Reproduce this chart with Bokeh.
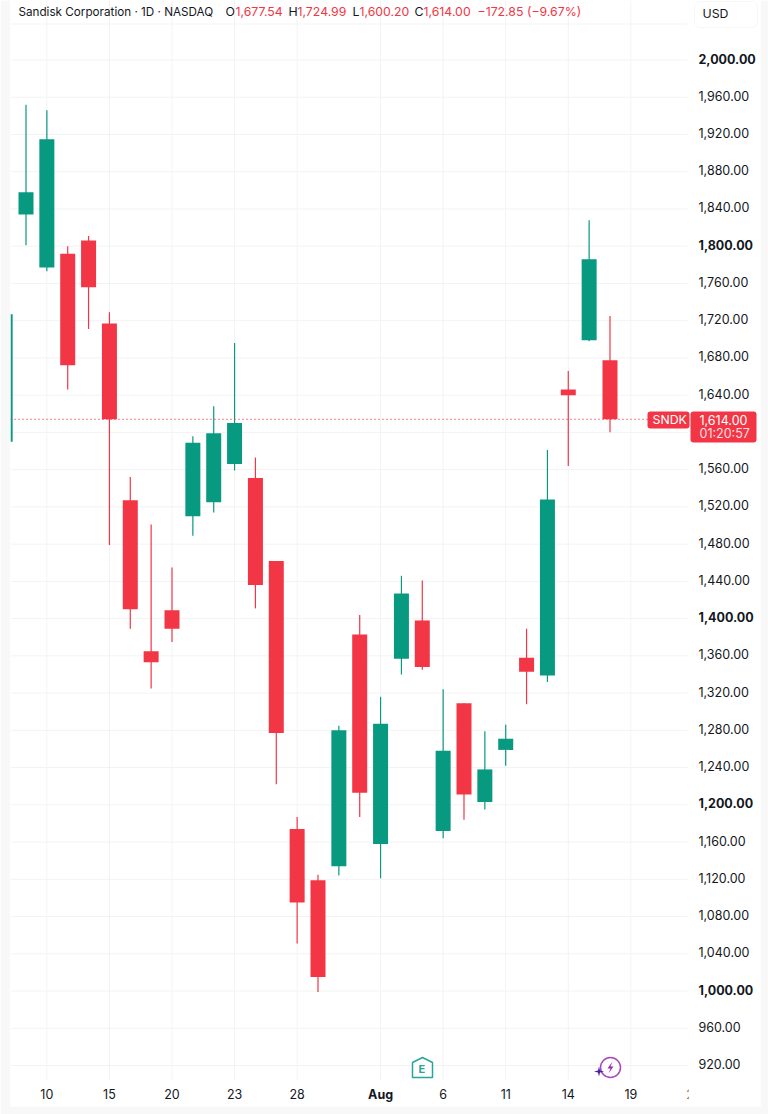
from bokeh.plotting import figure
from bokeh.models import (Range1d, LinearAxis, FixedTicker, Label, BoxAnnotation)
from bokeh.embed import file_html
from bokeh.resources import INLINE

# Daily candles: session index and OHLC
idx   = [-1,0,1,2,3,4,5,6,7,8,9,10,11,12,13,14,15,16,17,18,19,20,21,22,23,24,25,26,27,28]
opens = [1590,1834,1777,1792,1806,1717,1527,1365,1409,1510,1525,1566,1551,1462,1174,1119,1134,1383,1158,1357,1398,1172,1309,1203,1259,1358,1339,1646,1699,1677.54]
highs = [1727,1952,1946,1800,1811,1729,1552,1501,1455,1596,1628,1696,1573,1462,1187,1125,1285,1404,1316,1446,1441,1324,1309,1279,1286,1389,1581,1666,1828,1724.99]
lows  = [1590,1801,1773,1646,1711,1479,1389,1325,1375,1489,1514,1559,1411,1222,1051,999,1124,1187,1121,1340,1345,1164,1184,1195,1242,1308,1332,1564,1698,1600.20]
closes= [1727,1858,1915,1672,1756,1614,1410,1353,1389,1589,1599,1610,1436,1277,1095,1015,1280,1213,1287,1427,1348,1258,1211,1238,1271,1343,1528,1640,1786,1614.00]

price_ticks = [920,960,1040,1080,1120,1160,1240,1280,1320,1360,1440,1480,1520,1560,1640,1680,1720,1760,1840,1880,1920,1960]
price_bold  = [1000,1200,1400,1800,2000]
grid_prices = [920,960,1000,1040,1080,1120,1160,1200,1240,1280,1320,1360,1400,1440,1480,1520,1560,1600,1640,1680,1720,1760,1800,1840,1880,1920,1960,2000]
x_ticks  = [1,4,7,10,13,20,23,26,29,31.85]
x_labels = ["10","15","20","23","28","6","11","14","19","2"]
x_bold = [17]
x_bold_labels = ["Aug"]
grid_x = [1,4,7,10,13,17,20,23,26,29]

GREEN = "#089981"
RED = "#F23645"
TXT = "#131722"
GRID = "#f3f3f3"
FONT = "Inter"
W, H = 768, 1114
L, R, T, B = 10, 760, 0, 1106   # figure frame
PR, AB = 687, 1080              # price scale edge, time scale edge

def vy(y): return 2000 - (y - 59.5) * 1.0741
def vx(x): return (x - 25.5) / 20.857

p = figure(width=W, height=H, output_backend="svg", toolbar_location=None,
           x_range=Range1d(vx(L), vx(R)), y_range=Range1d(vy(B), vy(T)),
           min_border_left=L, min_border_right=W-R, min_border_top=T, min_border_bottom=H-B,
           x_axis_location=None, y_axis_location=None,
           border_fill_color="#f8f8f8", background_fill_color="#ffffff", outline_line_color=None)
p.grid.visible = False
# labels of the price scale sit a little above their grid line
p.extra_y_ranges = {"labels": Range1d(vy(B + 1.5), vy(T + 1.5))}

# grid
p.segment([vx(L)]*len(grid_prices), grid_prices, [vx(PR)]*len(grid_prices), grid_prices, line_color=GRID, level="underlay")
p.segment(grid_x, [vy(AB)]*len(grid_x), grid_x, [vy(T)]*len(grid_x), line_color=GRID, level="underlay")
p.segment([vx(L)], [vy(23.5)], [vx(PR)], [vy(23.5)], line_color=GRID, level="underlay")

# candles
cols = [GREEN if c >= o else RED for o, c in zip(opens, closes)]
tops = [max(o, c) for o, c in zip(opens, closes)]
bots = [min(o, c) for o, c in zip(opens, closes)]
p.segment(idx, lows, idx, highs, line_color=cols, line_width=1.2)
p.vbar(x=idx, top=tops, bottom=bots, width=15/20.857, fill_color=cols, line_color=None)

# last price line
p.segment([vx(L)], [closes[-1]], [vx(647)], [closes[-1]], line_color=RED, line_width=1.3, line_dash="1 3")

# axes
def style(a, sty, standoff):
    a.axis_line_color = None
    a.major_tick_line_color = None
    a.minor_tick_line_color = None
    a.major_label_standoff = standoff
    a.major_label_text_font = FONT
    a.major_label_text_font_size = "12.5px"
    a.major_label_text_font_style = sty
    a.major_label_text_color = TXT

for ticks, sty in [(price_ticks, "normal"), (price_bold, "bold")]:
    a = LinearAxis(ticker=FixedTicker(ticks=ticks), fixed_location=vx(PR), y_range_name="labels")
    style(a, sty, 5)
    a.major_label_overrides = {t: f"{t:,.2f}" for t in ticks}
    p.add_layout(a, "right")

for ticks, labels, sty, off in [(x_ticks, x_labels, "normal", 2), (x_bold, x_bold_labels, "bold", 0)]:
    b = LinearAxis(ticker=FixedTicker(ticks=ticks), fixed_location=vy(AB))
    style(b, sty, off)
    b.major_label_overrides = dict(zip(ticks, labels))
    p.add_layout(b, "below")

# the time scale label past the price scale edge is cut off
p.add_layout(BoxAnnotation(left=vx(PR+1), right=vx(R), top=vy(AB+2), bottom=vy(B), fill_color="#ffffff", fill_alpha=1, line_color=None, level="overlay"))

def label(x, y, text, color=TXT, size="12.3px", **kw):
    lb = Label(x=x-L, y=B-y, x_units="screen", y_units="screen", text=text, text_color=color,
               text_font=FONT, text_font_size=size, text_baseline="middle", **kw)
    p.add_layout(lb)

def box(x0, x1, y0, y1, fill, line=None, radius=3):
    p.add_layout(BoxAnnotation(left=vx(x0), right=vx(x1), top=vy(y0), bottom=vy(y1), fill_color=fill, fill_alpha=1,
                               line_color=line, border_radius=radius, level="annotation"))

# header
label(18, 11, "Sandisk Corporation · 1D · NASDAQ", size="11.7px")
for x, t, c in [(225,"O",TXT),(235,"1,677.54",RED),(288,"H",TXT),(297,"1,724.99",RED),
                (352,"L",TXT),(359,"1,600.20",RED),(414,"C",TXT),(423,"1,614.00",RED),(477,"−172.85 (−9.67%)",RED)]:
    label(x, 11, t, c)

# USD button
box(694, 757, 1, 27, "#ffffff", "#e6e6e6", 6)
label(702, 13, "USD")

# last price tags
box(647, 689, 411, 428, RED)
box(690, 756, 411, 442, RED)
label(652, 419, "SNDK", "#ffffff", "12.3px")
label(699, 419, "1,614.00", "#ffffff", "12.5px")
label(699, 432.5, "01:20:57", "#ffdfe2", "12.5px")

# event icons
E = [-10,0,10,10,-10,-10]
Ey = [-5,-10,-5,10,10,-5]
p.patch([vx(422+a) for a in E], [vy(1067+b) for b in Ey], fill_color="#ffffff", line_color="#26A69A", line_width=1.5)
label(418, 1068, "E", "#26A69A", "11px", text_font_style="bold")
p.scatter([vx(610)], [vy(1067)], marker="circle", size=20, fill_color="#ffffff", line_color="#AB47BC", line_width=1.5)
bx = [2,-3,0,-2,3,0]
by = [-6,1,1,6,-1,-1]
p.patch([vx(610+a) for a in bx], [vy(1067+b) for b in by], fill_color="#9C27B0", line_color=None)
sx = [0,1,5,1,0,-1,-5,-1]
sy = [-5,-1,0,1,5,1,0,-1]
p.patch([vx(598.5+a) for a in sx], [vy(1071+b) for b in sy], fill_color="#4A1FA8", line_color=None)

open("out.html", "w").write(file_html(p, INLINE))
